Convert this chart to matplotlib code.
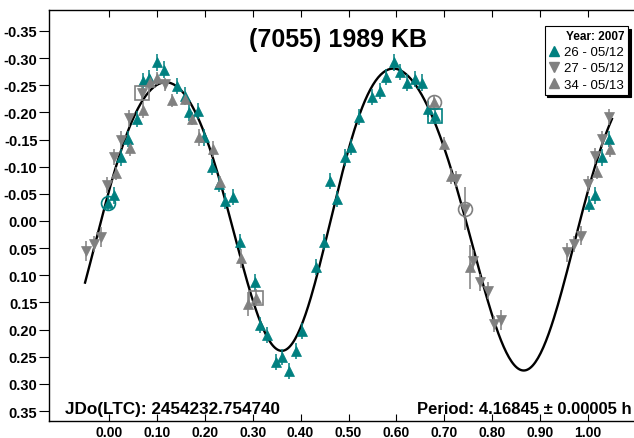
import matplotlib
matplotlib.use("Agg")
import matplotlib.pyplot as plt
from matplotlib.lines import Line2D
import numpy as np

plt.rcParams['font.family'] = ['Liberation Sans', 'DejaVu Sans']

TEAL = "#008080"
GREY = "#808080"

# --- session 26 - 05/12 (teal, up triangles) ---
s26_phase = [-0.003, 0.011, 0.026, 0.040, 0.058, 0.070, 0.084, 0.100, 0.114, 0.143,
             0.158, 0.168, 0.185, 0.199, 0.215, 0.229, 0.243, 0.259, 0.274, 0.304,
             0.316, 0.330, 0.348, 0.362, 0.375, 0.391, 0.403, 0.433, 0.449, 0.461,
             0.477, 0.492, 0.506, 0.522, 0.550, 0.565, 0.579, 0.594, 0.608, 0.622,
             0.639, 0.653, 0.665, 0.680, 1.002, 1.014, 1.029, 1.044]
s26_mag = [-0.033, -0.047, -0.117, -0.151, -0.188, -0.257, -0.263, -0.292, -0.279, -0.249,
           -0.231, -0.200, -0.203, -0.154, -0.099, -0.068, -0.037, -0.044, 0.039, 0.113,
           0.192, 0.210, 0.260, 0.251, 0.276, 0.239, 0.202, 0.085, 0.039, -0.074,
           -0.041, -0.117, -0.136, -0.191, -0.228, -0.240, -0.265, -0.292, -0.274, -0.255,
           -0.262, -0.255, -0.206, -0.194, -0.031, -0.047, -0.117, -0.151]
s26_err = [0.015] * len(s26_phase)

# --- session 27 - 05/12 (grey, down triangles) ---
s27_phase = [-0.048, -0.031, -0.017, -0.004, 0.011, 0.026, 0.041, 0.068, 0.116,
             0.724, 0.743, 0.759, 0.775, 0.791, 0.803, 0.819,
             0.957, 0.971, 0.985, 1.000, 1.014, 1.029, 1.044]
s27_mag = [0.055, 0.042, 0.029, -0.066, -0.118, -0.150, -0.189, -0.236, -0.252,
           -0.077, -0.023, 0.073, 0.113, 0.128, 0.190, 0.182,
           0.058, 0.042, 0.027, -0.068, -0.120, -0.151, -0.191]
s27_err = [0.018, 0.015, 0.018, 0.015, 0.015, 0.015, 0.015, 0.015, 0.012,
           0.015, 0.040, 0.020, 0.015, 0.015, 0.015, 0.018,
           0.018, 0.015, 0.018, 0.015, 0.015, 0.015, 0.015]

# --- session 34 - 05/13 (grey, up triangles) ---
s34_phase = [0.015, 0.043, 0.072, 0.086, 0.101, 0.131, 0.159, 0.173, 0.187, 0.218,
             0.232, 0.276, 0.290, 0.306, 0.679, 0.699, 0.713, 0.754, 1.018, 1.045]
s34_mag = [-0.088, -0.134, -0.204, -0.256, -0.263, -0.222, -0.225, -0.188, -0.154, -0.133,
           -0.071, 0.069, 0.153, 0.141, -0.219, -0.142, -0.083, 0.085, -0.090, -0.133]
s34_err = [0.012, 0.015, 0.015, 0.012, 0.012, 0.012, 0.012, 0.012, 0.015, 0.015,
           0.012, 0.018, 0.022, 0.015, 0.012, 0.012, 0.015, 0.040, 0.012, 0.015]

# first points of each session, marked with open circles / squares
circles = [(-0.003, -0.033, TEAL), (0.679, -0.219, GREY), (0.743, -0.023, GREY)]
squares = [(0.068, -0.236, GREY), (0.306, 0.141, GREY), (0.680, -0.194, TEAL)]

x_ticks = np.arange(0.0, 1.01, 0.1)
y_ticks = np.arange(-0.35, 0.351, 0.05)

title = "(7055) 1989 KB"
jd_text = "JDo(LTC): 2454232.754740"
period_text = "Period: 4.16845 \u00b1 0.00005 h"

# Fourier fit of the phased data (order 4), as in the lightcurve software
all_p = np.array(s26_phase + s27_phase + s34_phase)
all_m = np.array(s26_mag + s27_mag + s34_mag)
keep = (all_p >= 0) & (all_p < 1)
order = 4

def design(p):
    cols = [np.ones_like(p)]
    for k in range(1, order + 1):
        cols.append(np.cos(2 * np.pi * k * p))
        cols.append(np.sin(2 * np.pi * k * p))
    return np.column_stack(cols)

coef, *_ = np.linalg.lstsq(design(all_p[keep]), all_m[keep], rcond=None)
fit_p = np.linspace(-0.05, 1.05, 400)
fit_m = design(fit_p) @ coef

W, H = 634, 439
fig = plt.figure(figsize=(W / 100, H / 100), dpi=100)
ax = fig.add_axes([49.3 / W, (H - 422) / H, (640 - 49.3) / W, 411 / H])

ax.plot(fit_p, fit_m, color="black", lw=1.7, zorder=2)

for ph, mg, er, col, mk in [(s26_phase, s26_mag, s26_err, TEAL, "^"),
                            (s27_phase, s27_mag, s27_err, GREY, "v"),
                            (s34_phase, s34_mag, s34_err, GREY, "^")]:
    ax.errorbar(ph, mg, yerr=er, fmt="none", ecolor=col, elinewidth=1.1, capsize=0, zorder=3)
    ax.plot(ph, mg, linestyle="none", marker=mk, color=col, markersize=6.5,
            markeredgewidth=0.5, zorder=4)

for px, py, col in circles:
    ax.plot(px, py, marker="o", markersize=10, markerfacecolor="none",
            markeredgecolor=col, markeredgewidth=1.2, linestyle="none", zorder=5)
for px, py, col in squares:
    ax.plot(px, py, marker="s", markersize=10, markerfacecolor="none",
            markeredgecolor=col, markeredgewidth=1.2, linestyle="none", zorder=5)

ax.set_xlim((49.3 - 109) / 479, (640 - 109) / 479)
ax.set_ylim((422 - 222) / 543, (11 - 222) / 543)

ax.set_xticks(x_ticks)
ax.set_xticklabels([f"{abs(t) if abs(t) < 1e-9 else t:.2f}" for t in x_ticks])
ax.set_yticks(y_ticks)
ax.set_yticklabels([f"{0.0 if abs(t) < 1e-9 else t:.2f}" for t in y_ticks])
ax.tick_params(axis="x", direction="in", top=True, bottom=True, length=5, width=0.8,
               pad=3, labelsize=10)
ax.tick_params(axis="y", direction="out", left=True, right=False, length=7, width=0.8,
               pad=1.5, labelsize=10.5)
for lab in ax.get_xticklabels() + ax.get_yticklabels():
    lab.set_fontweight("bold")
ax.spines["right"].set_visible(False)
for s in ["left", "top", "bottom"]:
    ax.spines[s].set_linewidth(1.0)

fig.text(338 / W, 1 - 40 / H, title, ha="center", va="center", fontsize=18, fontweight="bold")
fig.text(65 / W, 1 - 410 / H, jd_text, ha="left", va="center", fontsize=12.3, fontweight="bold")
fig.text(632 / W, 1 - 410 / H, period_text, ha="right", va="center", fontsize=12,
         fontweight="bold")

handles = [Line2D([], [], marker="^", color=TEAL, linestyle="none", markersize=6.5),
           Line2D([], [], marker="v", color=GREY, linestyle="none", markersize=6.5),
           Line2D([], [], marker="^", color=GREY, linestyle="none", markersize=6.5)]
labels = ["26 - 05/12", "27 - 05/12", "34 - 05/13"]
leg = ax.legend(handles, labels, title="Year: 2007", loc="upper right",
                bbox_to_anchor=(628 / W, 1 - 27 / H), bbox_transform=fig.transFigure,
                fontsize=9.5, title_fontproperties={"weight": "bold", "size": 8.5},
                alignment="right", frameon=True, fancybox=False, framealpha=1,
                edgecolor="black", shadow={"color": "black", "alpha": 1},
                handlelength=0.8, handletextpad=0.4, borderpad=0.3, labelspacing=0.3,
                borderaxespad=0)
leg.get_frame().set_linewidth(0.8)

fig.savefig("out.png", dpi=100)
